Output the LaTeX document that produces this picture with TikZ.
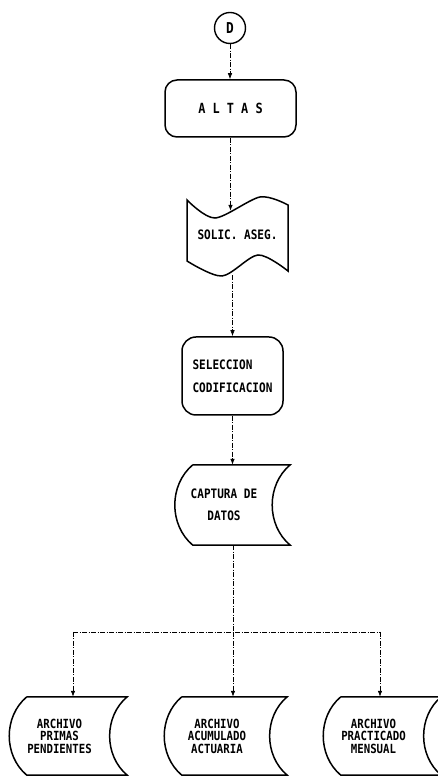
\documentclass[tikz,border=0pt]{standalone}
\usepackage{fontspec}
\newfontfamily\plotfont{DejaVu Sans Mono}[FakeStretch=0.85]
\usetikzlibrary{arrows.meta}

\tikzset{
  caja/.style={draw, line width=1.5pt, rounded corners=12pt, inner sep=4pt},
  datos/.style={minimum width=100pt, minimum height=78pt, inner sep=0pt, align=center,
    font=\plotfont\bfseries\fontsize{12.6}{12.5}\selectfont},
  linea/.style={line width=0.7pt, dash pattern=on 5pt off 1.5pt on 1pt off 1.5pt},
  flow/.style={linea, -{Latex[length=6pt,width=4.5pt]}},
}
% contorno de archivo (datos almacenados)
\newcommand\almacen[1]{%
  \draw[line width=1.5pt] ([xshift=17.5pt]#1.north west) -- ([xshift=17.5pt]#1.north east)
    to[bend right=50] ([xshift=17.5pt]#1.south east) -- ([xshift=17.5pt]#1.south west)
    to[bend left=50] ([xshift=17.5pt]#1.north west);}

\begin{document}
\begin{tikzpicture}[x=1pt, y=1pt, font=\plotfont\bfseries\fontsize{13}{13}\selectfont]
  \useasboundingbox (0,0) rectangle (438,777);

  \node[draw, circle, line width=1.4pt, minimum size=31pt, inner sep=0pt,
    font=\plotfont\bfseries\fontsize{15}{15}\selectfont] (d) at (230,749) {D};
  \node[caja, minimum width=131pt, minimum height=57pt,
    font=\plotfont\bfseries\fontsize{14}{14}\selectfont] (altas) at (230.5,668.5) {A L T A S};

  % cinta perforada
  \node[minimum width=101pt, minimum height=64pt, inner sep=0pt,
    text height=9pt, text depth=15pt] (solic) at (237.5,534) {SOLIC. ASEG.};
  \draw[line width=1.5pt] plot[smooth] coordinates {(187,577) (215,559) (260,580) (288,572)}
    -- plot[smooth] coordinates {(288,506) (258,522) (222,501) (187,516)} -- cycle;

  \node[caja, rounded corners=14pt, minimum width=101pt, minimum height=78pt, align=left,
    font=\plotfont\bfseries\fontsize{13}{23}\selectfont] (selec) at (232.5,401) {SELECCION\\CODIFICACION};

  \node[datos, minimum width=97pt, minimum height=80pt,
    font=\plotfont\bfseries\fontsize{13}{22}\selectfont] (captura) at (224,272) {CAPTURA DE\\DATOS};
  \almacen{captura}

  \node[datos] (primas) at (59.5,41) {ARCHIVO\\PRIMAS\\PENDIENTES};
  \node[datos, minimum width=105pt] (acum) at (217,41) {ARCHIVO\\ACUMULADO\\ACTUARIA};
  \node[datos] (pract) at (373.5,41) {ARCHIVO\\PRACTICADO\\MENSUAL};
  \foreach \n in {primas,acum,pract}
    {\almacen{\n}}

  % conectores
  \draw[flow] (d.south) -- (d.south |- altas.north);
  \draw[flow] (altas.south) -- (altas.south |- solic.north);
  \draw[flow] (solic.south -| selec.north) -- (selec.north);
  \draw[flow] (selec.south) -- (selec.south |- captura.north);

  \coordinate (bus) at (233,145);
  \coordinate (busl) at (73,145);
  \coordinate (busr) at (380,145);
  \draw[linea] (captura.south -| bus) -- (bus);
  \draw[linea] (busl) -- (busr);
  \draw[flow] (busl) -- (busl |- primas.north);
  \draw[flow] (bus) -- (bus |- acum.north);
  \draw[flow] (busr) -- (busr |- pract.north);
\end{tikzpicture}
\end{document}
